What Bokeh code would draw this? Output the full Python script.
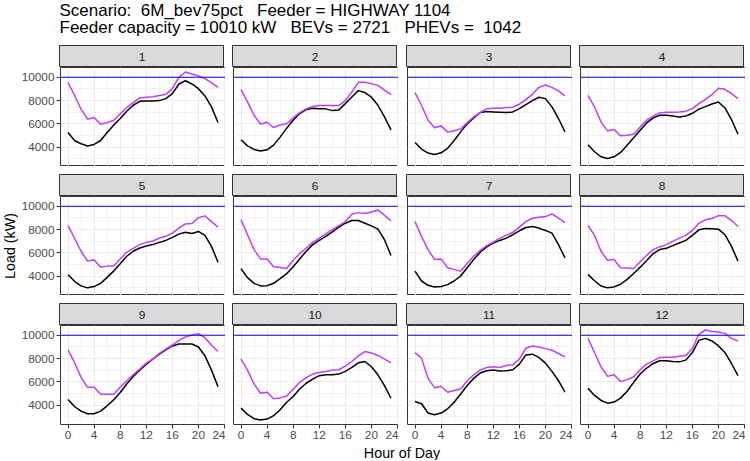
import math
from bokeh.plotting import figure
from bokeh.models import Range1d, FixedTicker, Label, Spacer, Span
from bokeh.layouts import row, column
from bokeh.embed import file_html
from bokeh.resources import INLINE

# ---------------- data ----------------
HOURS = list(range(24))
MONTHS = [1, 2, 3, 4, 5, 6, 7, 8, 9, 10, 11, 12]
FEEDER_CAPACITY = 10010
NB = "\u00a0"
TITLE_1 = "Scenario:" + NB + " 6M_bev75pct" + NB + NB + " Feeder = HIGHWAY 1104"
TITLE_2 = "Feeder capacity = 10010 kW" + NB + NB + " BEVs = 2721" + NB + NB + " PHEVs =" + NB + " 1042"
X_LABEL = "Hour of Day"
Y_LABEL = "Load (kW)"
X_TICKS = [0, 4, 8, 12, 16, 20, 24]
X_MINOR = [2, 6, 10, 14, 18, 22]
Y_TICKS = [4000, 6000, 8000, 10000]
Y_MINOR = [3000, 5000, 7000, 9000]

# base load (black) and load with EV charging (purple), kW, hours 0..23
BASE_1 = [5260, 4570, 4290, 4090, 4230, 4570, 5260, 5890, 6460, 7090, 7600, 7940, 7970, 7970, 8000, 8170, 8600, 9430, 9710, 9430, 9030, 8400, 7460, 6110]
TOTAL_1 = [9540, 8460, 7260, 6400, 6540, 5970, 6110, 6290, 6860, 7400, 7830, 8230, 8290, 8340, 8430, 8540, 9030, 10000, 10460, 10290, 10110, 9890, 9540, 9140]
BASE_2 = [4630, 4110, 3800, 3660, 3770, 4170, 4860, 5630, 6310, 6890, 7230, 7340, 7310, 7290, 7140, 7200, 7740, 8310, 8860, 8690, 8290, 7600, 6600, 5490]
TOTAL_2 = [8940, 7890, 6740, 5970, 6140, 5690, 5910, 6000, 6510, 6970, 7290, 7490, 7570, 7570, 7570, 7570, 8000, 8740, 9570, 9570, 9460, 9310, 8910, 8510]
BASE_3 = [4400, 3830, 3490, 3370, 3510, 3890, 4570, 5310, 6000, 6510, 6970, 7060, 7030, 7000, 6970, 7030, 7310, 7660, 8000, 8290, 8170, 7460, 6460, 5310]
TOTAL_3 = [8690, 7600, 6310, 5660, 5830, 5290, 5400, 5570, 6090, 6600, 6970, 7310, 7340, 7340, 7400, 7430, 7690, 8090, 8540, 9140, 9340, 9140, 8830, 8400]
BASE_4 = [4200, 3600, 3170, 3020, 3170, 3540, 4170, 4800, 5450, 6080, 6510, 6740, 6740, 6680, 6600, 6680, 6910, 7260, 7480, 7710, 7880, 7370, 6370, 5110]
TOTAL_4 = [8450, 7450, 6170, 5400, 5510, 4970, 5030, 5110, 5740, 6310, 6660, 6940, 7000, 7000, 7030, 7090, 7310, 7740, 8110, 8510, 9060, 8970, 8600, 8170]
BASE_5 = [4120, 3550, 3160, 2990, 3100, 3380, 3890, 4430, 5060, 5710, 6140, 6420, 6590, 6710, 6900, 7070, 7330, 7610, 7780, 7670, 7840, 7500, 6560, 5200]
TOTAL_5 = [8350, 7270, 6140, 5290, 5400, 4770, 4860, 4860, 5480, 6050, 6390, 6710, 6900, 7020, 7270, 7420, 7700, 8130, 8490, 8520, 9030, 9180, 8690, 8210]
BASE_6 = [4630, 3870, 3380, 3160, 3180, 3380, 3780, 4210, 4800, 5480, 6140, 6710, 7070, 7420, 7810, 8210, 8550, 8780, 8780, 8550, 8320, 8040, 7130, 5770]
TOTAL_6 = [8840, 7560, 6280, 5480, 5480, 4800, 4750, 4660, 5370, 5940, 6420, 6900, 7270, 7640, 7980, 8350, 8690, 9320, 9460, 9380, 9520, 9690, 9230, 8750]
BASE_7 = [4430, 3580, 3210, 3070, 3100, 3270, 3580, 4010, 4720, 5430, 6050, 6510, 6850, 7070, 7270, 7560, 7900, 8180, 8270, 8130, 7930, 7700, 6710, 5570]
TOTAL_7 = [8690, 7420, 6280, 5430, 5480, 4720, 4580, 4410, 5090, 5710, 6220, 6620, 6930, 7250, 7530, 7760, 8210, 8690, 8980, 9060, 9120, 9350, 8980, 8610]
BASE_8 = [4150, 3600, 3150, 2990, 3070, 3300, 3720, 4230, 4770, 5340, 5940, 6280, 6390, 6620, 6850, 7070, 7500, 7980, 8100, 8070, 8040, 7560, 6560, 5290]
TOTAL_8 = [8350, 7500, 6140, 5370, 5430, 4720, 4690, 4660, 5230, 5800, 6280, 6510, 6710, 6990, 7270, 7500, 7930, 8550, 8840, 8950, 9200, 9200, 8780, 8270]
BASE_9 = [4480, 3880, 3480, 3260, 3260, 3480, 3940, 4450, 5080, 5820, 6470, 7010, 7520, 7950, 8380, 8750, 9090, 9260, 9260, 9260, 9000, 8240, 7010, 5590]
TOTAL_9 = [8750, 7670, 6390, 5530, 5530, 4940, 4940, 4940, 5530, 6100, 6610, 7100, 7610, 7950, 8440, 8810, 9170, 9570, 9860, 10030, 10140, 9800, 9150, 8610]
BASE_10 = [3740, 3200, 2830, 2720, 2800, 3090, 3600, 4250, 4740, 5390, 5880, 6240, 6530, 6610, 6610, 6670, 6900, 7240, 7640, 7750, 7300, 6610, 5670, 4590]
TOTAL_10 = [7980, 7010, 5820, 5020, 5110, 4540, 4620, 4790, 5360, 5960, 6360, 6670, 6810, 6900, 7010, 7040, 7350, 7750, 8240, 8610, 8490, 8270, 7950, 7640]
BASE_11 = [4310, 4120, 3320, 3180, 3320, 3680, 4250, 4960, 5680, 6300, 6760, 6960, 7010, 6930, 6960, 7040, 7520, 8320, 8380, 8100, 7610, 6900, 6100, 5110]
TOTAL_11 = [8520, 8040, 6300, 5480, 5620, 5110, 5250, 5390, 6100, 6610, 7010, 7240, 7300, 7240, 7410, 7470, 7950, 8890, 9090, 9000, 8860, 8720, 8440, 8150]
BASE_12 = [5450, 4830, 4400, 4170, 4260, 4600, 5190, 5960, 6670, 7190, 7580, 7810, 7810, 7750, 7720, 7870, 8520, 9570, 9740, 9520, 9090, 8520, 7580, 6530]
TOTAL_12 = [9740, 8520, 7300, 6470, 6610, 6020, 6190, 6440, 7040, 7520, 7810, 8100, 8120, 8120, 8210, 8270, 8860, 10090, 10460, 10340, 10290, 10170, 9740, 9520]

BASES = [BASE_1, BASE_2, BASE_3, BASE_4, BASE_5, BASE_6,
         BASE_7, BASE_8, BASE_9, BASE_10, BASE_11, BASE_12]
TOTALS = [TOTAL_1, TOTAL_2, TOTAL_3, TOTAL_4, TOTAL_5, TOTAL_6,
          TOTAL_7, TOTAL_8, TOTAL_9, TOTAL_10, TOTAL_11, TOTAL_12]

# ---------------- style ----------------
FONT = "Liberation Sans"
PURPLE = "#BF3EFF"
BLUE = "#0000FF"
BORDER = "#333333"
GRID = "#EBEBEB"
STRIP_FILL = "#D9D9D9"

PW, PH, SH = 165, 99, 22       # panel width/height, strip height
YL_W = 18                      # y-axis title column
LEFT_B, BOTTOM_B = 41, 20      # axis borders
GAPS = [8, 9, 8]
ROW_GAP = 8
TITLE_H = 45
XLAB_H = 16
TOTAL_W = YL_W + LEFT_B + 4 * PW + sum(GAPS)

# shared scales (ggplot-like 5% expansion)
all_vals = [v for s in BASES + TOTALS for v in s]
ylo, yhi = min(all_vals), max(all_vals)
ypad = 0.05 * (yhi - ylo)
xpad = 0.05 * (max(HOURS) - min(HOURS))
XR = Range1d(min(HOURS) - xpad, max(HOURS) + xpad)
YR = Range1d(ylo - ypad, yhi + ypad)


def make_panel(i, left, bottom):
    p = figure(frame_width=PW, frame_height=PH, x_range=XR, y_range=YR,
               output_backend="svg", toolbar_location=None,
               min_border=0,
               min_border_left=LEFT_B if left else 0,
               min_border_bottom=BOTTOM_B if bottom else 0,
               x_axis_location="below" if bottom else None,
               y_axis_location="left" if left else None,
               background_fill_color="white", border_fill_color="white",
               outline_line_color=BORDER, outline_line_width=1)
    for g, ticks, minor in ((p.xgrid, X_TICKS, X_MINOR), (p.ygrid, Y_TICKS, Y_MINOR)):
        g.ticker = FixedTicker(ticks=ticks, minor_ticks=minor)
        g.grid_line_color = GRID
        g.grid_line_width = 1.1
        g.minor_grid_line_color = GRID
        g.minor_grid_line_width = 0.6
    axes = []
    if bottom:
        p.xaxis.ticker = FixedTicker(ticks=X_TICKS, minor_ticks=X_MINOR)
        axes.append(p.xaxis)
    if left:
        p.yaxis.ticker = FixedTicker(ticks=Y_TICKS, minor_ticks=Y_MINOR)
        axes.append(p.yaxis)
    for ax in axes:
        ax.axis_line_color = None
        ax.major_tick_in = 0
        ax.major_tick_out = 4
        ax.minor_tick_in = 0
        ax.minor_tick_out = 0
        ax.major_tick_line_color = BORDER
        ax.major_label_text_font = FONT
        ax.major_label_text_font_size = "11.8px"
        ax.major_label_text_color = "#4D4D4D"
        ax.major_label_standoff = 2
    p.line(HOURS, BASES[i], line_color="black", line_width=1.5)
    p.line(HOURS, TOTALS[i], line_color=PURPLE, line_width=1.5)
    p.add_layout(Span(location=FEEDER_CAPACITY, dimension="width",
                      line_color=BLUE, line_width=1.2))
    return p


def make_strip(i):
    s = figure(width=PW, height=SH, x_range=Range1d(0, 1), y_range=Range1d(0, 1),
               output_backend="svg", toolbar_location=None, min_border=0,
               x_axis_location=None, y_axis_location=None,
               background_fill_color=STRIP_FILL, border_fill_color=STRIP_FILL,
               outline_line_color=BORDER, outline_line_width=1)
    s.grid.visible = False
    s.add_layout(Label(x=0.5, y=0.5, text=str(MONTHS[i]), text_align="center",
                       text_baseline="middle", text_font=FONT,
                       text_font_size="11.8px", text_color="#1A1A1A"))
    return s


def blank(width, height, left=0, top=0):
    f = figure(width=width, height=height, x_range=Range1d(0, 1), y_range=Range1d(0, 1),
               output_backend="svg", toolbar_location=None, min_border=0,
               min_border_left=left, min_border_top=top,
               x_axis_location=None, y_axis_location=None,
               outline_line_color=None, background_fill_color="white",
               border_fill_color="white")
    f.grid.visible = False
    return f


rows = []
for r in range(3):
    strips = [Spacer(width=LEFT_B, height=SH)]
    panels = []
    for c in range(4):
        i = r * 4 + c
        if c > 0:
            strips.append(Spacer(width=GAPS[c - 1], height=SH))
            panels.append(Spacer(width=GAPS[c - 1], height=PH))
        strips.append(make_strip(i))
        panels.append(make_panel(i, left=(c == 0), bottom=(r == 2)))
    if r > 0:
        rows.append(Spacer(width=10, height=ROW_GAP))
    rows.append(row(*strips))
    rows.append(row(*panels))
grid = column(*rows)

rows_h = 3 * (SH + PH) + 2 * ROW_GAP
ylab = blank(YL_W, rows_h, top=SH)
ylab.add_layout(Label(x=0.5, y=0.5, text=Y_LABEL, angle=math.pi / 2,
                      text_align="center", text_baseline="middle",
                      text_font=FONT, text_font_size="14.3px", text_color="black"))

title = blank(TOTAL_W, TITLE_H, left=YL_W + LEFT_B)
title.add_layout(Label(x=0, y=0.767, text=TITLE_1, text_align="left",
                       text_baseline="middle", text_font=FONT,
                       text_font_size="17px", text_color="black"))
title.add_layout(Label(x=0, y=0.389, text=TITLE_2, text_align="left",
                       text_baseline="middle", text_font=FONT,
                       text_font_size="17px", text_color="black"))

xlab = blank(TOTAL_W, XLAB_H, left=YL_W + LEFT_B)
xlab.add_layout(Label(x=0.5, y=0.44, text=X_LABEL, text_align="center",
                      text_baseline="middle", text_font=FONT,
                      text_font_size="14.3px", text_color="black"))

p = column(title, row(ylab, grid), xlab)

open("out.html", "w").write(file_html(p, INLINE))
